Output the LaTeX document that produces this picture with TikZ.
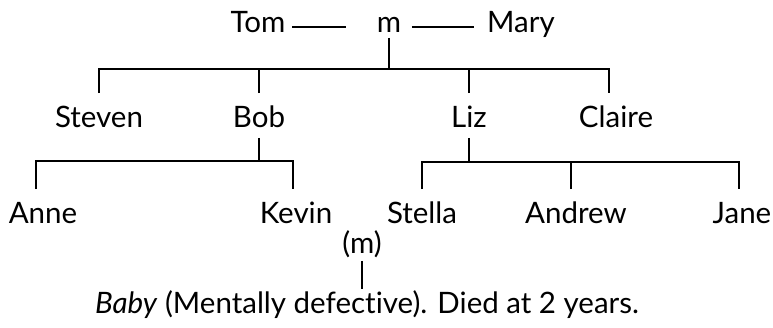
\documentclass[tikz,border=0pt]{standalone}
\usepackage{fontspec}
\setmainfont{Lato}[Ligatures=NoCommon]
\begin{document}
\begin{tikzpicture}[x=1pt,y=-1pt,
  line width=1.7pt,
  every node/.style={font=\fontsize{29.5}{31}\selectfont, inner xsep=0pt},
  person/.style={anchor=base, text height=29pt, text depth=6pt, inner ysep=4pt},
  note/.style={anchor=base, text height=19pt, text depth=3pt, inner ysep=4pt}]
\useasboundingbox (0,0) rectangle (773,327);

% first generation
\node[person] (Tom)  at (258,32) {Tom};
\node[person, text depth=1pt] (m) at (389,32) {m};
\node[person] (Mary) at (521,32) {Mary};

% children
\node[person] (Steven) at (99,127)  {Steven};
\node[person] (Bob)    at (259,127) {Bob};
\node[person] (Liz)    at (469,127) {Liz};
\node[person] (Claire) at (616,127) {Claire};

% grandchildren
\node[person] (Anne)   at (43,223)  {Anne};
\node[person] (Kevin)  at (296,223) {Kevin};
\node[person] (Stella) at (422,223) {Stella};
\node[person] (Andrew) at (576,223) {Andrew};
\node[person] (Jane)   at (742,223) {Jane};

% Kevin's marriage and child
\node[note] (km)   at (362,253) {(m)};
\node[note] (Baby) at (367,313) {\textit{Baby} (Mentally defective). Died at 2 years.};

% marriage line
\draw ([shift={(6pt,5pt)}]Tom.base east) -- ([shift={(-30pt,5pt)}]m.base west);
\draw ([shift={(10pt,5pt)}]m.base east) -- ([shift={(-12pt,5pt)}]Mary.base west);

% sibling bar of the first family
\coordinate (top) at (389,69);
\coordinate (claireJ) at ([xshift=-7pt]Claire.north);
\draw (m.south) -- (top);
\draw (Steven.north) -- (Steven.north |- top) -- (top -| claireJ) -- (claireJ);
\draw (Bob.north) -- (Bob.north |- top);
\draw (Liz.north) -- (Liz.north |- top);

% Bob's children
\coordinate (bobbar) at (259,161);
\coordinate (anneJ) at ([xshift=-7pt]Anne.north);
\coordinate (kevinJ) at ([xshift=-3pt]Kevin.north);
\draw (Bob.south) -- (bobbar);
\draw (anneJ) -- (anneJ |- bobbar) -- (bobbar -| kevinJ) -- (kevinJ);

% Liz's children
\coordinate (lizbar) at (469,162);
\coordinate (andrewJ) at ([xshift=-5pt]Andrew.north);
\coordinate (janeJ) at ([xshift=-3pt]Jane.north);
\draw (Liz.south) -- (lizbar);
\draw (Stella.north) -- (Stella.north |- lizbar) -- (lizbar -| janeJ) -- (janeJ);
\draw (andrewJ) -- (andrewJ |- lizbar);

% Kevin's child
\draw (km.south) -- (km.south |- Baby.north);
\end{tikzpicture}
\end{document}
